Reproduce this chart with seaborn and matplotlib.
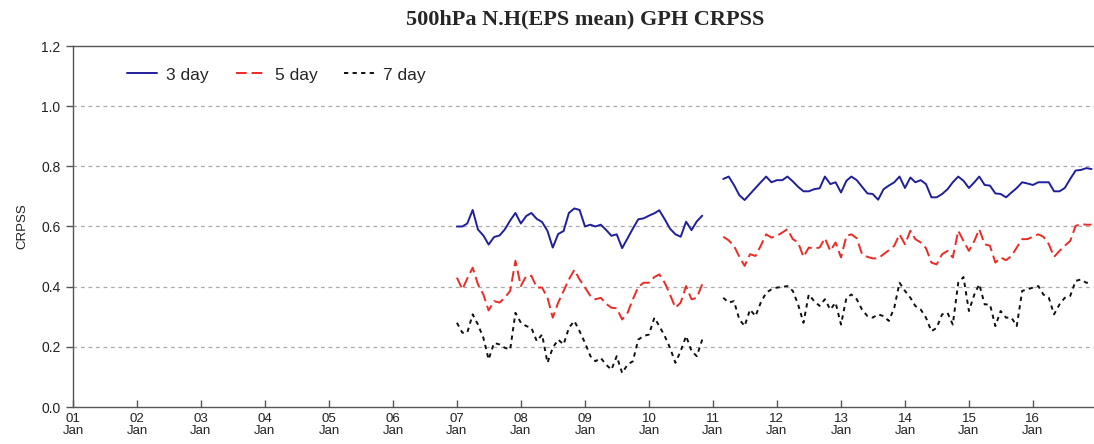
import numpy as np
import pandas as pd
import matplotlib
matplotlib.use("Agg")
import matplotlib.pyplot as plt
import seaborn as sns

# ---- data (monthly CRPSS) ----
seg1_start = "2007-01-01"
seg2_start = "2011-03-01"
series_names = ["3 day", "5 day", "7 day"]

blue1 = [0.60,0.60,0.61,0.655,0.59,0.57,0.54,0.565,0.57,0.59,0.62,0.645,0.61,0.635,0.645,0.625,0.615,0.585,0.53,0.575,0.585,0.645,0.66,0.655,
         0.60,0.606,0.60,0.606,0.589,0.569,0.574,0.528,0.561,0.593,0.624,0.627,0.636,0.644,0.654,0.624,0.593,0.574,0.566,0.616,0.588,0.617,0.636]
red1 = [0.43,0.391,0.427,0.463,0.408,0.374,0.321,0.352,0.347,0.363,0.386,0.486,0.402,0.436,0.436,0.397,0.397,0.363,0.297,0.347,0.386,0.424,0.456,0.424,
        0.397,0.369,0.358,0.363,0.343,0.33,0.328,0.291,0.313,0.358,0.399,0.413,0.413,0.432,0.441,0.413,0.374,0.33,0.347,0.402,0.358,0.363,0.408]
black1 = [0.28,0.247,0.247,0.308,0.274,0.23,0.158,0.213,0.208,0.197,0.191,0.313,0.28,0.269,0.263,0.219,0.241,0.147,0.197,0.224,0.208,0.263,0.286,0.252,
          0.213,0.169,0.152,0.163,0.141,0.124,0.169,0.113,0.141,0.152,0.224,0.236,0.241,0.297,0.269,0.236,0.197,0.147,0.186,0.236,0.186,0.169,0.224]

blue2 = [0.758,0.766,0.738,0.704,0.688,0.708,0.728,0.747,0.766,0.747,0.754,0.754,0.766,0.75,0.732,0.717,0.717,0.724,0.727,0.766,0.741,0.747,0.713,
         0.752,0.766,0.754,0.732,0.71,0.708,0.689,0.724,0.736,0.747,0.766,0.728,0.763,0.747,0.754,0.741,0.697,0.697,0.708,0.724,0.747,0.766,0.752,
         0.728,0.747,0.766,0.738,0.736,0.71,0.708,0.697,0.713,0.728,0.747,0.743,0.738,0.747,0.747,0.747,0.717,0.717,0.728,0.758,0.786,0.788,0.794,0.791]
red2 = [0.566,0.554,0.536,0.499,0.469,0.508,0.502,0.536,0.574,0.563,0.569,0.58,0.591,0.558,0.547,0.499,0.53,0.527,0.53,0.561,0.519,0.547,0.497,
        0.569,0.574,0.561,0.508,0.499,0.494,0.494,0.508,0.521,0.536,0.574,0.541,0.586,0.558,0.547,0.528,0.48,0.474,0.508,0.519,0.497,0.586,0.552,
        0.519,0.552,0.591,0.541,0.536,0.48,0.497,0.488,0.502,0.53,0.558,0.558,0.566,0.574,0.566,0.541,0.499,0.519,0.536,0.552,0.602,0.608,0.606,0.606]
black2 = [0.363,0.347,0.352,0.291,0.269,0.324,0.302,0.347,0.38,0.391,0.397,0.399,0.402,0.386,0.341,0.28,0.374,0.352,0.336,0.358,0.324,0.347,0.274,
          0.363,0.374,0.358,0.324,0.302,0.297,0.308,0.302,0.286,0.33,0.413,0.386,0.363,0.336,0.324,0.297,0.252,0.263,0.308,0.313,0.274,0.413,0.432,
          0.319,0.374,0.408,0.341,0.341,0.269,0.319,0.297,0.297,0.269,0.386,0.391,0.397,0.402,0.374,0.363,0.308,0.341,0.363,0.369,0.419,0.424,0.413,0.413]

tick_years = list(range(2001, 2017))
tick_labels = [f"{y % 100:02d}\nJan" for y in tick_years]
y_ticks = [0.0, 0.2, 0.4, 0.6, 0.8, 1.0, 1.2]

# ---- build long table ----
rows = []
for seg, start, vals in [(1, seg1_start, (blue1, red1, black1)),
                         (2, seg2_start, (blue2, red2, black2))]:
    for name, v in zip(series_names, vals):
        dates = pd.date_range(start, periods=len(v), freq="MS")
        for d, val in zip(dates, v):
            rows.append({"date": d, "CRPSS": val, "series": name, "segment": seg})
df = pd.DataFrame(rows)

sns.set_style("white")
plt.rcParams["font.family"] = ["Liberation Sans", "DejaVu Sans"]

W, H = 1094, 444
fig = plt.figure(figsize=(W / 100, H / 100), dpi=100)
left, right, top, bottom = 73, 1097, 46, 407
ax = fig.add_axes([left / W, 1 - bottom / H, (right - left) / W, (bottom - top) / H])

palette = {"3 day": "#1f1f9e", "5 day": "#ee2a24", "7 day": "#111111"}
dashes = {"3 day": "", "5 day": (5.5, 2.5), "7 day": (2.2, 2.2)}
sns.lineplot(data=df, x="date", y="CRPSS", hue="series", style="series",
             units="segment", estimator=None, palette=palette, dashes=dashes,
             linewidth=1.4, ax=ax, legend=True)

ax.set_xlim(pd.Timestamp("2001-01-01"), pd.Timestamp("2017-01-01"))
ax.set_ylim(0, 1.2)
ax.set_yticks(y_ticks)
ax.set_yticklabels([f"{t:.1f}" for t in y_ticks], fontsize=10, color="#222222")
ax.set_xticks([pd.Timestamp(f"{y}-01-01") for y in tick_years])
ax.set_xticklabels(tick_labels, fontsize=9.5, color="#222222", linespacing=1.05)
ax.set_xlabel("")
ax.set_ylabel("CRPSS", fontsize=9.5, color="#222222", labelpad=9)

for g in [0.2, 0.4, 0.6, 0.8, 1.0]:
    ax.axhline(g, color="#aaaaaa", lw=0.9, ls=(0, (3, 3)), zorder=0)

for s in ["top", "bottom"]:
    ax.spines[s].set_color("#555555")
    ax.spines[s].set_linestyle((0, (3, 1)))
    ax.spines[s].set_linewidth(1.0)
ax.spines["left"].set_color("#555555")
ax.spines["left"].set_linewidth(1.0)
ax.spines["right"].set_visible(False)

ax.tick_params(axis="y", direction="out", length=5, width=1, color="#555555", pad=4, left=True)
ax.tick_params(axis="x", direction="in", length=5, width=1, color="#555555", pad=4, bottom=True)

leg = ax.legend(loc="center left", bbox_to_anchor=((127 - left) / (right - left), (bottom - 75) / (bottom - top)),
                ncol=3, frameon=False, borderpad=0, borderaxespad=0,
                fontsize=12.5, handlelength=1.7, handletextpad=0.55, columnspacing=1.55)
leg.set_title(None)

fig.text(585 / W, 1 - 19 / H, "500hPa N.H(EPS mean) GPH CRPSS", ha="center", va="center",
         fontsize=16, fontweight="bold", family="Liberation Serif")

fig.savefig("out.png", dpi=100)
